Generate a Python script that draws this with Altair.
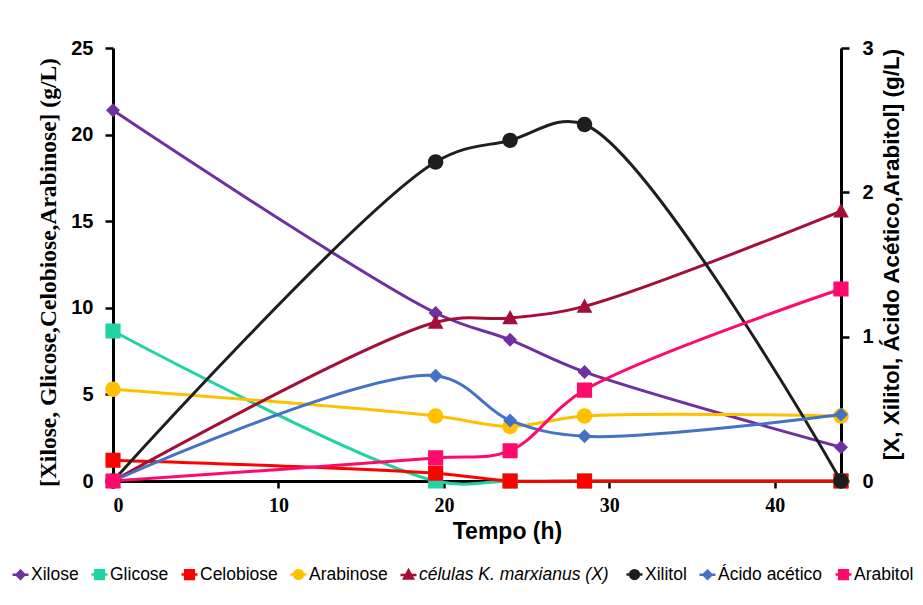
import altair as alt
import pandas as pd

# Sampling times (h)
tempo = [0, 19.5, 24, 28.5, 44]

# Left axis: sugars (g/L)
xilose = [21.4, 9.7, 8.15, 6.3, 1.95]
glicose = [8.66, 0, 0, 0, 0]
celobiose = [1.2, 0.45, 0, 0, 0]
arabinose = [5.3, 3.75, 3.15, 3.75, 3.75]

# Right axis: cells, products (g/L)
celulas = [0, 1.10, 1.13, 1.21, 1.87]
xilitol = [0, 2.21, 2.36, 2.47, 0]
acido_acetico = [0, 0.73, 0.42, 0.31, 0.46]
arabitol = [0, 0.16, 0.21, 0.63, 1.33]

nomes = ["Xilose", "Glicose", "Celobiose", "Arabinose",
         "células  K. marxianus (X)", "Xilitol", "Ácido acético", "Arabitol"]
cores = ["#7030A0", "#1FD3A2", "#FF0000", "#FFC000",
         "#A50F37", "#1E1E1E", "#4472C4", "#FF0A6C"]

# Marker paths: the horizontal stroke through each symbol only shows in the
# legend (plot markers are fill-only), giving the line-with-marker key.
DIAMANTE = "M-1,0H1M0,-0.5L0.5,0L0,0.5L-0.5,0Z"
QUADRADO = "M-1,0H1M-0.54,-0.54H0.54V0.54H-0.54Z"
CIRCULO = "M-1,0H1M0.55,0A0.55,0.55,0,1,1,-0.55,0A0.55,0.55,0,1,1,0.55,0Z"
TRIANGULO = "M-1,0H1M0,-0.56L0.56,0.46H-0.56Z"
formas = [DIAMANTE, QUADRADO, QUADRADO, CIRCULO,
          TRIANGULO, CIRCULO, DIAMANTE, QUADRADO]

esquerda = {"Xilose": xilose, "Glicose": glicose,
            "Celobiose": celobiose, "Arabinose": arabinose}
direita = {"células  K. marxianus (X)": celulas, "Xilitol": xilitol,
           "Ácido acético": acido_acetico, "Arabitol": arabitol}


def long_table(series):
    rows = []
    for nome, valores in series.items():
        for t, v in zip(tempo, valores):
            rows.append({"Série": nome, "Tempo": t, "Valor": v})
    return pd.DataFrame(rows)


df_esq = long_table(esquerda)
df_dir = long_table(direita)

x_enc = alt.X(
    "Tempo:Q",
    scale=alt.Scale(domain=[0, 44], nice=False, zero=False),
    axis=alt.Axis(
        values=[0, 10, 20, 30, 40], title="Tempo (h)",
        labelFont="Liberation Serif", labelFontSize=20, labelFontWeight="bold",
        labelPadding=7, tickSize=7,
        titleFont="Liberation Sans", titleFontSize=23, titleFontWeight="bold",
        titleX=394, titleY=50, titleBaseline="middle", titleAnchor="start",
        titleAlign="center",
    ),
)

color_scale = alt.Scale(domain=nomes, range=cores)
shape_scale = alt.Scale(domain=nomes, range=formas)

legend = alt.Legend(
    title=None, orient="none", direction="horizontal", columns=8,
    legendX=-102, legendY=517,
    labelFont="Liberation Sans", labelFontSize=17.5, labelColor="black",
    labelFontStyle={"expr": "indexof(datum.label, 'marxianus') >= 0 ? 'italic' : 'normal'"},
    labelLimit=400, labelOffset=1, columnPadding=7,
    symbolSize=256, symbolStrokeWidth=2.5,
    symbolStrokeColor={"expr": "scale('color', datum.value)"},
)


def panel(df, y_axis, domain, interp="catmull-rom"):
    base = alt.Chart(df)
    y_enc = alt.Y("Valor:Q", scale=alt.Scale(domain=domain, nice=False), axis=y_axis)
    color = alt.Color("Série:N", scale=color_scale, legend=legend, sort=nomes)
    lines = base.mark_line(strokeWidth=3, interpolate=interp).encode(
        x=x_enc, y=y_enc, color=color,
    )
    points = base.mark_point(filled=True, opacity=1, size=784, strokeWidth=0).encode(
        x=x_enc, y=y_enc, color=color,
        shape=alt.Shape("Série:N", scale=shape_scale, legend=legend, sort=nomes),
    )
    return alt.layer(lines, points)


eixo_esq = alt.Axis(
    orient="left", values=[0, 5, 10, 15, 20, 25],
    title="[Xilose,  Glicose,Celobiose,Arabinose]  (g/L)",
    labelFont="Liberation Sans", labelFontSize=20, labelFontWeight="bold",
    labelPadding=12, tickSize=8,
    titleFont="Liberation Serif", titleFontSize=23.5, titleFontWeight="bold",
    titleAngle=270, titleX=-65, titleY=224, titleBaseline="middle",
    titleAlign="center",
)
eixo_dir = alt.Axis(
    orient="right", values=[0, 1, 2, 3],
    title="[X, Xilitol, Ácido Acético,Arabitol]  (g/L)",
    labelFont="Liberation Sans", labelFontSize=20, labelFontWeight="bold",
    labelPadding=13, tickSize=8,
    titleFont="Liberation Sans", titleFontSize=22.5, titleFontWeight="bold",
    titleAngle=270, titleX=50, titleY=206, titleBaseline="middle",
    titleAlign="center",
)

chart = (
    alt.layer(
        panel(df_esq, eixo_esq, [0, 25]),
        panel(df_dir, eixo_dir, [0, 3]),
    )
    .resolve_scale(y="independent")
    .properties(
        width=728, height=433,
        autosize=alt.AutoSizeParams(type="none"),
        padding={"left": 113, "top": 48, "right": 82, "bottom": 124},
        background="white",
    )
    .configure_view(stroke="transparent")
    .configure_axis(
        grid=False, domainColor="black", domainWidth=3,
        tickColor="black", tickWidth=2.5, labelColor="black", titleColor="black",
    )
)

chart.save("out.html", embed_options={"renderer": "svg", "actions": False})
